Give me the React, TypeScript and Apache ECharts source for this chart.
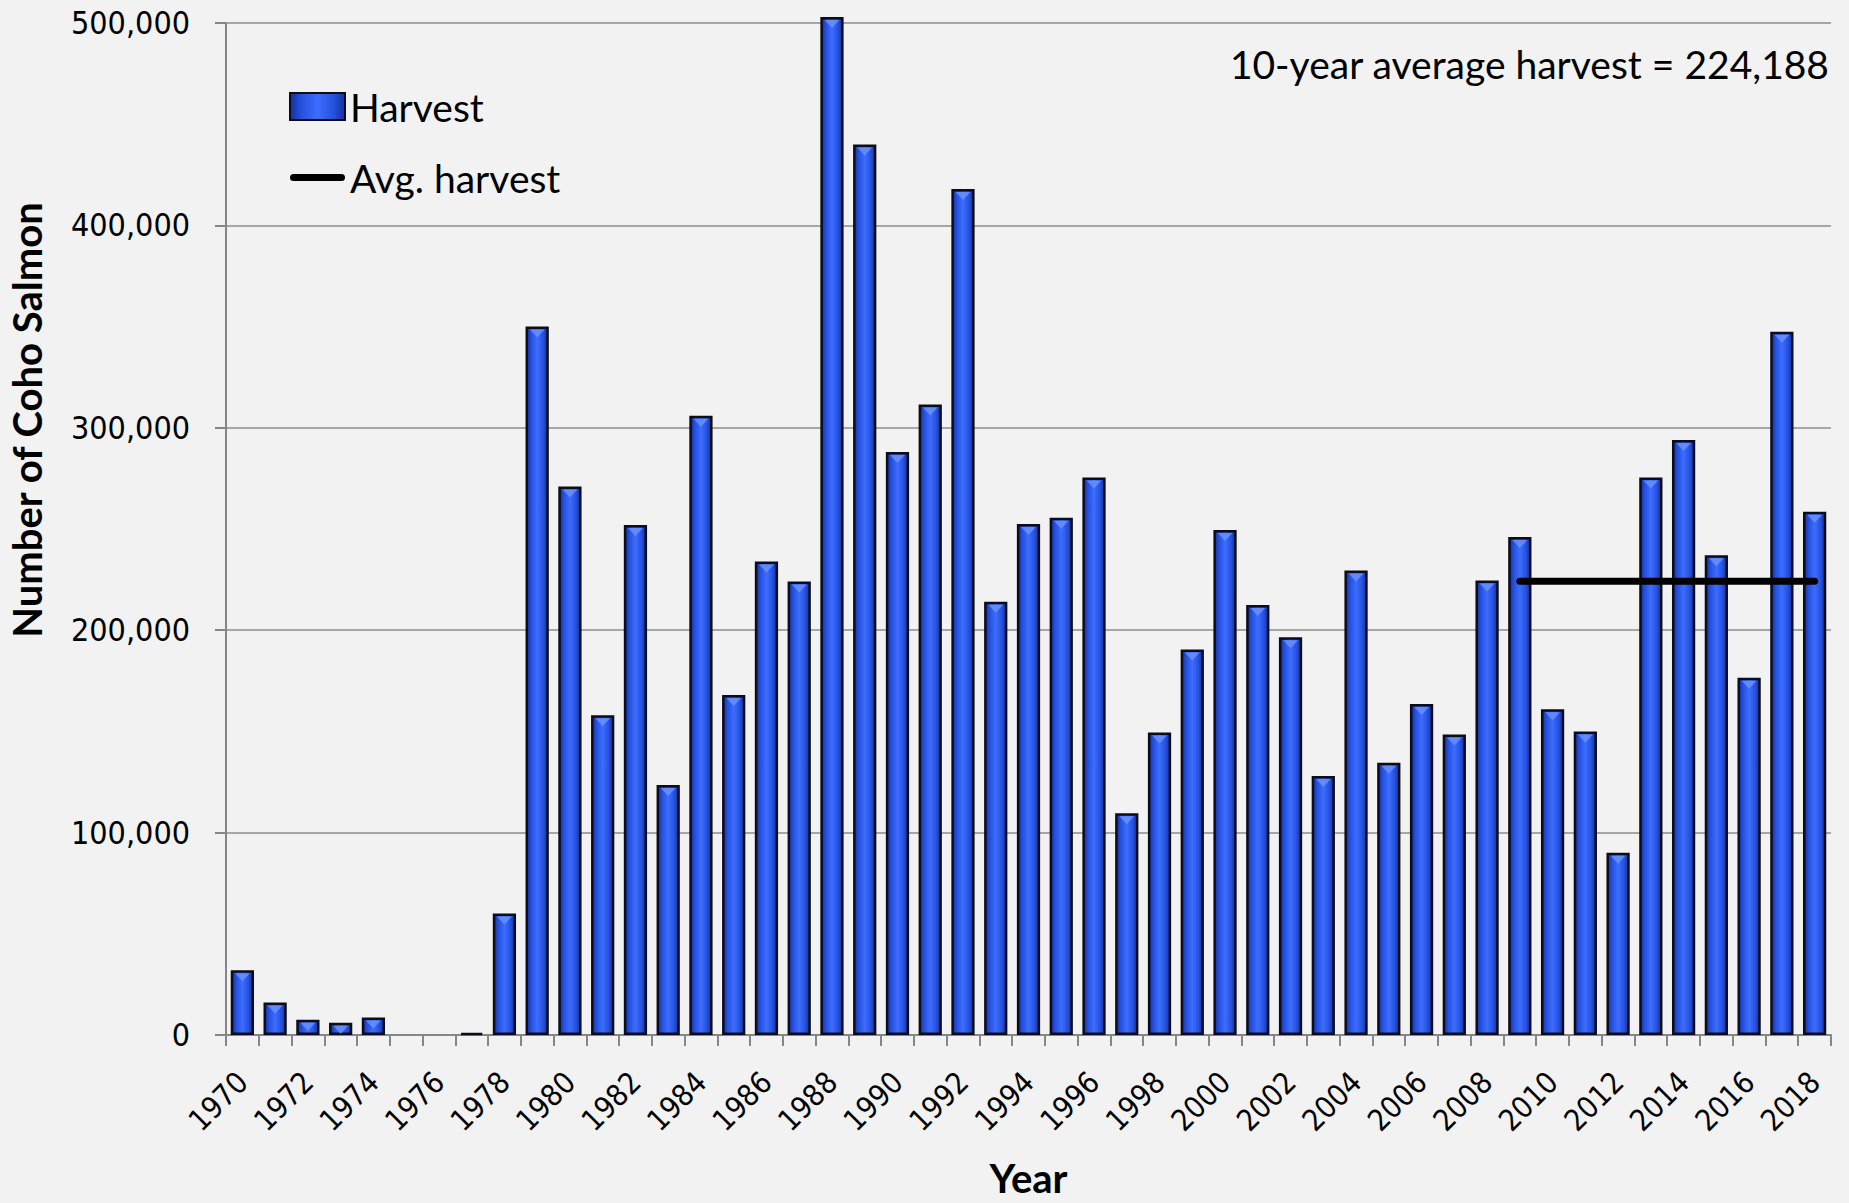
import React, { useEffect, useRef } from "react";
import * as echarts from "echarts";

const years: string[] = [];
for (let y = 1970; y <= 2018; y++) years.push(String(y));

// Harvest values (null = no harvest shown)
const harvest: (number | null)[] = [
  32000, 16000, 7500, 6000, 8700, null, null, 1000, 60000, 350000,
  271000, 158000, 252000, 123500, 306000, 168000, 234000, 224000, 503000, 440000,
  288000, 311500, 418000, 214000, 252500, 255500, 275500, 109500, 149500, 190500,
  249500, 212500, 196500, 128000, 229500, 134500, 163500, 148500, 224500, 246000,
  161000, 150000, 90000, 275500, 294000, 237000, 176500, 347500, 258500,
];

const avgHarvest = 224188;
const avgStartYear = 2009;

const yTicks = [0, 100000, 200000, 300000, 400000, 500000];

const CAL = "Lato, 'Open Sans', sans-serif";
const TAH = "'DejaVu Sans Condensed', 'DejaVu Sans', sans-serif";

const lineIcon =
  "path://M3.5,0 L51.5,0 A3.5,3.5 0 0 1 51.5,7 L3.5,7 A3.5,3.5 0 0 1 3.5,0 Z";

export default function App() {
  const ref = useRef<HTMLDivElement>(null);
  useEffect(() => {
    if (!ref.current) return;
    const chart = echarts.init(ref.current, undefined, { renderer: "svg" });
    const avgData = years.map((y) => (Number(y) >= avgStartYear ? avgHarvest : null));
    // bevel highlight only where the bar is tall enough to show it
    const bevelData = harvest.map((v) => (v !== null && v >= 5000 ? v : null));
    const barColor = new echarts.graphic.LinearGradient(0, 0, 1, 0, [
      { offset: 0, color: "#142f9e" },
      { offset: 0.2, color: "#2450dc" },
      { offset: 0.5, color: "#3d6dff" },
      { offset: 0.8, color: "#2450dc" },
      { offset: 1, color: "#142f9e" },
    ]);
    chart.setOption({
      animation: false,
      backgroundColor: "#f2f2f2",
      grid: { left: 226, right: 18, top: 23, bottom: 162, containLabel: false },
      legend: {
        orient: "vertical",
        left: 289,
        top: 87,
        padding: 0,
        itemWidth: 55,
        itemHeight: 27,
        itemGap: 32,
        textStyle: { fontFamily: CAL, fontSize: 39, color: "#000" },
        data: [
          { name: "Harvest", icon: "rect" },
          { name: "Avg. harvest", icon: lineIcon, itemStyle: { color: "#000", borderWidth: 0 } },
        ],
      },
      xAxis: {
        type: "category",
        data: years,
        boundaryGap: true,
        axisLine: { lineStyle: { color: "#868686", width: 2 } },
        axisTick: {
          show: true,
          interval: 0,
          length: 11,
          alignWithLabel: false,
          lineStyle: { color: "#868686", width: 2 },
        },
        axisLabel: {
          interval: 1,
          rotate: 45,
          margin: 42,
          color: "#000",
          fontFamily: TAH,
          fontSize: 30,
        },
        name: "Year",
        nameLocation: "middle",
        nameGap: 123,
        nameTextStyle: { fontFamily: CAL, fontWeight: "bold", fontSize: 40, color: "#000" },
      },
      yAxis: {
        type: "value",
        min: yTicks[0],
        max: yTicks[yTicks.length - 1],
        interval: 100000,
        axisLine: { show: true, lineStyle: { color: "#868686", width: 2 } },
        axisTick: { show: true, length: 11, lineStyle: { color: "#868686", width: 2 } },
        splitLine: { lineStyle: { color: "#8c8c8c", width: 1.5 } },
        axisLabel: {
          margin: 36,
          color: "#000",
          fontFamily: TAH,
          fontSize: 32,
          formatter: (v: number) => v.toLocaleString("en-US"),
        },
      },
      graphic: [
        {
          type: "text",
          x: 27,
          y: 420,
          rotation: Math.PI / 2,
          style: {
            text: "Number of Coho Salmon",
            font: `bold 40px ${CAL}`,
            fill: "#000",
            textAlign: "center",
            textVerticalAlign: "middle",
          },
        },
        {
          type: "text",
          x: 1829,
          y: 64,
          style: {
            text: "10-year average harvest = 224,188",
            font: `39px ${CAL}`,
            fill: "#000",
            textAlign: "right",
            textVerticalAlign: "middle",
          },
        },
      ],
      series: [
        {
          name: "Harvest",
          type: "bar",
          data: harvest,
          clip: false,
          barCategoryGap: "29%",
          itemStyle: { color: barColor, borderColor: "#0d0d1a", borderWidth: 2.5 },
        },
        {
          name: "HarvestBevel",
          type: "pictorialBar",
          data: bevelData,
          clip: false,
          silent: true,
          symbol: "triangle",
          symbolRotate: 180,
          symbolSize: [15, 8],
          symbolPosition: "end",
          symbolOffset: [0, 3],
          barCategoryGap: "29%",
          z: 3,
          itemStyle: { color: "#6a91ff", opacity: 0.85 },
        },
        {
          name: "Avg. harvest",
          type: "line",
          data: avgData,
          symbol: "none",
          showSymbol: false,
          z: 5,
          lineStyle: { color: "#000", width: 7, cap: "round" },
          itemStyle: { color: "#000" },
        },
      ],
    });
    return () => chart.dispose();
  }, []);
  return (
    <div
      ref={ref}
      style={{ position: "absolute", left: 0, top: 0, width: 1849, height: 1203, background: "#f2f2f2" }}
    />
  );
}
